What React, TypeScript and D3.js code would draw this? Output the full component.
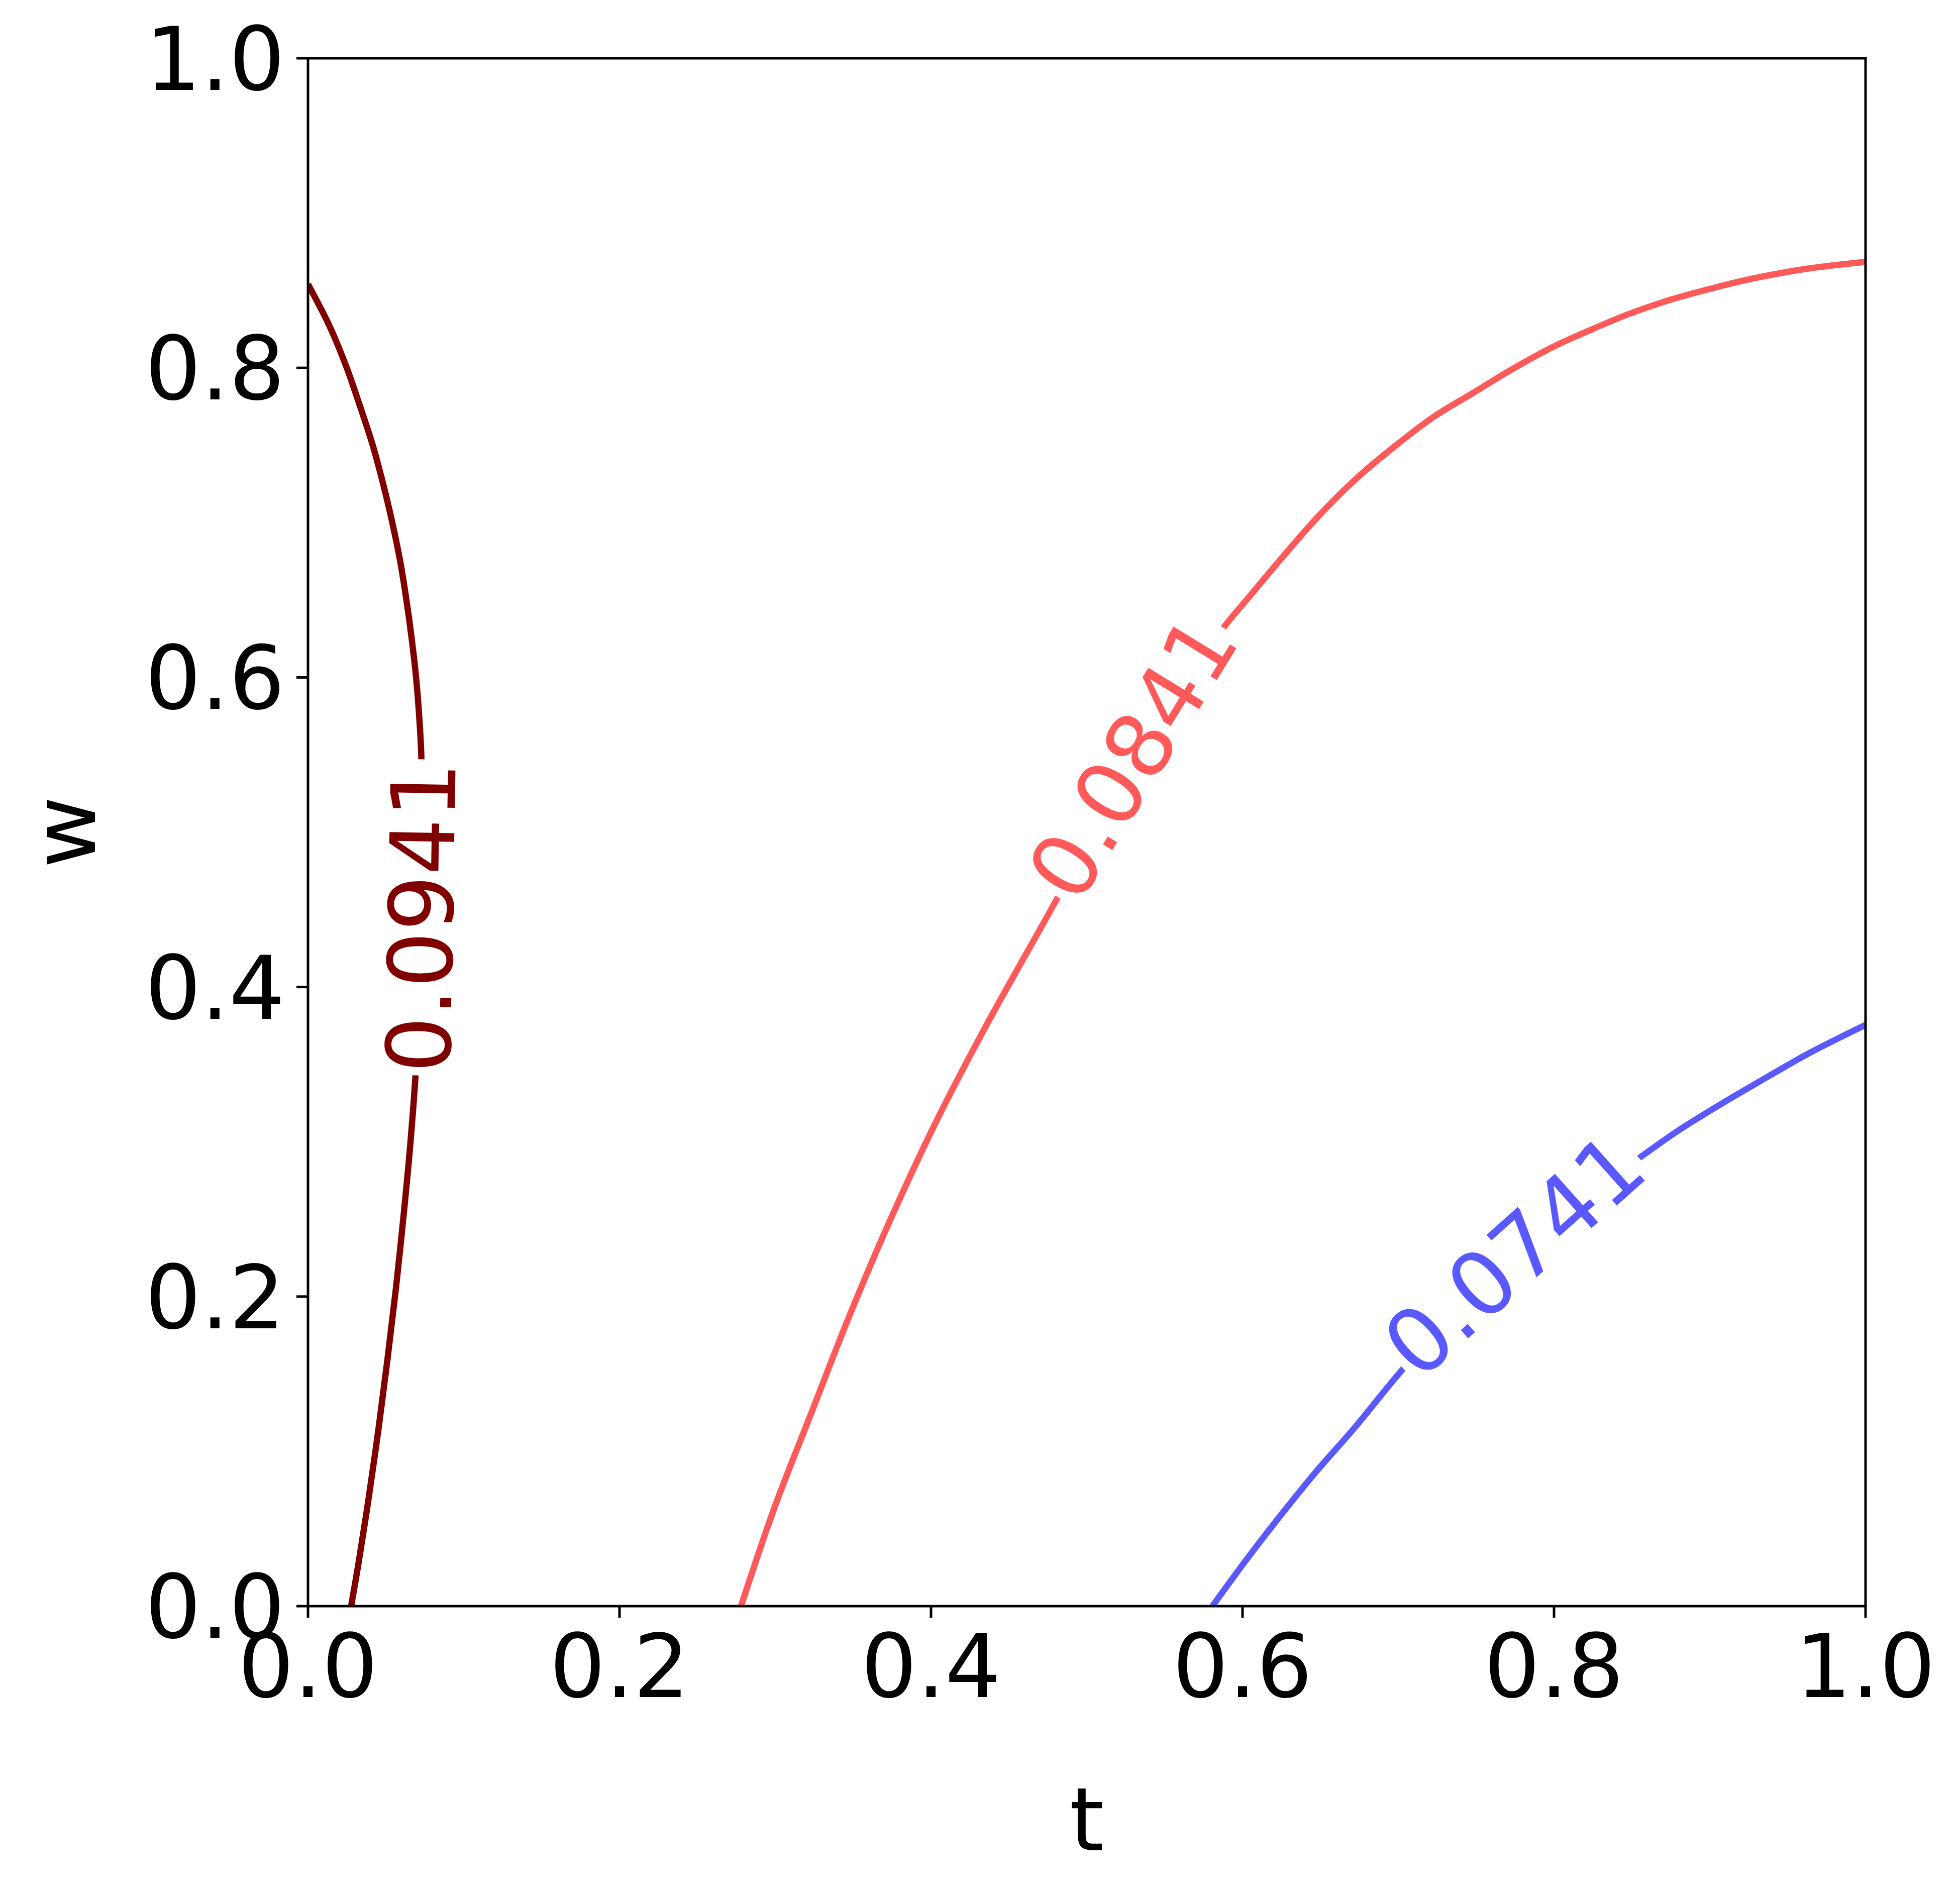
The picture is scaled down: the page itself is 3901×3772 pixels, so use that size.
import React from 'react';
import * as d3 from 'd3';

const W = 3901;
const H = 3772;

const xTicks = [0, 0.2, 0.4, 0.6, 0.8, 1.0];
const yTicks = [0, 0.2, 0.4, 0.6, 0.8, 1.0];
const xLabel = 't';
const yLabel = 'w';

const levels = ['0.0941', '0.0841', '0.0741'];
const levelColors = ['#800000', '#ff5959', '#5959ff'];

const darkRedT = [0.0, 0.0141, 0.0248, 0.0334, 0.0415, 0.0485, 0.0541, 0.0592, 0.0632, 0.0666, 0.0694, 0.0714, 0.0727, 0.0732, 0.0726, 0.0712, 0.0695, 0.0657, 0.0614, 0.0566, 0.0512, 0.0453, 0.0388, 0.0324, 0.0277];
const darkRedW = [0.854, 0.8264, 0.8002, 0.7752, 0.7502, 0.724, 0.7001, 0.675, 0.65, 0.6249, 0.5999, 0.5748, 0.5509, 0.5, 0.445, 0.39, 0.3503, 0.2986, 0.2526, 0.2067, 0.1608, 0.1148, 0.0688, 0.0275, 0.0];

const redT = [0.278, 0.2995, 0.3235, 0.3477, 0.374, 0.4028, 0.4349, 0.4711, 0.4845, 0.507, 0.529, 0.5608, 0.5879, 0.6036, 0.6253, 0.6498, 0.6742, 0.6986, 0.7231, 0.7475, 0.7719, 0.7991, 0.8235, 0.848, 0.8751, 0.9023, 0.9295, 0.9621, 1.0];
const redW = [0.0, 0.0637, 0.1257, 0.1878, 0.2499, 0.312, 0.3741, 0.4393, 0.4635, 0.503, 0.54, 0.593, 0.6323, 0.6513, 0.6773, 0.7053, 0.7295, 0.75, 0.7686, 0.7835, 0.7984, 0.8134, 0.8245, 0.8348, 0.8441, 0.8516, 0.8581, 0.864, 0.8685];

const blueT = [0.5807, 0.6031, 0.6251, 0.6472, 0.672, 0.7024, 0.74, 0.774, 0.81, 0.8526, 0.8788, 0.9064, 0.9339, 0.9643, 1.0];
const blueW = [0.0, 0.0308, 0.0594, 0.0868, 0.1153, 0.1525, 0.194, 0.227, 0.257, 0.288, 0.3066, 0.3239, 0.3401, 0.3575, 0.3755];

const labelT = [0.0724, 0.529, 0.774];
const labelW = [0.445, 0.5485, 0.227];

const curvesT = [darkRedT, redT, blueT];
const curvesW = [darkRedW, redW, blueW];

const FONT = "'DejaVu Sans', sans-serif";
const FS = 175;
const LABEL_FS = 177;

function labelAngle(pts: [number, number][], L: [number, number]) {
  const cum = [0];
  for (let i = 1; i < pts.length; i++) {
    cum.push(cum[i - 1] + Math.hypot(pts[i][0] - pts[i - 1][0], pts[i][1] - pts[i - 1][1]));
  }
  let best = Infinity;
  let s0 = 0;
  for (let i = 1; i < pts.length; i++) {
    const [ax, ay] = pts[i - 1];
    const [bx, by] = pts[i];
    const dx = bx - ax, dy = by - ay;
    const len2 = dx * dx + dy * dy;
    let u = ((L[0] - ax) * dx + (L[1] - ay) * dy) / len2;
    u = Math.max(0, Math.min(1, u));
    const px = ax + u * dx, py = ay + u * dy;
    const d = Math.hypot(L[0] - px, L[1] - py);
    if (d < best) {
      best = d;
      s0 = cum[i - 1] + u * Math.sqrt(len2);
    }
  }
  const at = (s: number): [number, number] => {
    s = Math.max(0, Math.min(cum[cum.length - 1], s));
    for (let i = 1; i < pts.length; i++) {
      if (cum[i] >= s) {
        const u = (s - cum[i - 1]) / (cum[i] - cum[i - 1] || 1);
        return [pts[i - 1][0] + u * (pts[i][0] - pts[i - 1][0]), pts[i - 1][1] + u * (pts[i][1] - pts[i - 1][1])];
      }
    }
    return pts[pts.length - 1];
  };
  const a = at(s0 - 300);
  const b = at(s0 + 300);
  let ang = (Math.atan2(b[1] - a[1], b[0] - a[0]) * 180) / Math.PI;
  if (ang > 90) ang -= 180;
  if (ang < -90) ang += 180;
  return ang;
}

function textWidth(s: string, fs: number) {
  let w = 0;
  for (const c of s) w += c === '.' ? 0.318 : 0.636;
  return w * fs;
}

export default function App() {
  const x = d3.scaleLinear().domain([0, 1]).range([613, 3713]);
  const y = d3.scaleLinear().domain([0, 1]).range([3197, 116]);
  const [x0, x1] = x.range();
  const [y0, y1] = y.range();
  const fmt = d3.format('.1f');
  const tickLen = 23;
  const pad = 23;

  const line = d3
    .line<[number, number]>()
    .x((d) => x(d[0]))
    .y((d) => y(d[1]))
    .curve(d3.curveCatmullRom.alpha(0.5));

  const curves = curvesT.map((ts, i) => ts.map((t, j) => [t, curvesW[i][j]] as [number, number]));

  const labels = levels.map((lev, i) => {
    const pix = curves[i].map((d) => [x(d[0]), y(d[1])] as [number, number]);
    const L: [number, number] = [x(labelT[i]), y(labelW[i])];
    const ang = labelAngle(pix, L);
    return { text: lev, cx: L[0], cy: L[1], ang, w: textWidth(lev, LABEL_FS), color: levelColors[i] };
  });

  return (
    <svg
      width={W}
      height={H}
      viewBox={`0 0 ${W} ${H}`}
      style={{ position: 'absolute', left: 0, top: 0, display: 'block', background: '#fff' }}
    >
      <defs>
        <clipPath id="plotclip">
          <rect x={x0} y={y1} width={x1 - x0} height={y0 - y1} />
        </clipPath>
        <mask id="labelmask" maskUnits="userSpaceOnUse" x={0} y={0} width={W} height={H}>
          <rect x={0} y={0} width={W} height={H} fill="#fff" />
          {labels.map((l, i) => (
            <rect
              key={i}
              x={-(l.w + 10) / 2}
              y={-LABEL_FS * 0.6}
              width={l.w + 10}
              height={LABEL_FS * 1.2}
              fill="#000"
              transform={`translate(${l.cx},${l.cy}) rotate(${l.ang})`}
            />
          ))}
        </mask>
      </defs>
      <rect x={0} y={0} width={W} height={H} fill="#fff" />
      <g clipPath="url(#plotclip)">
        <g mask="url(#labelmask)">
          {curves.map((c, i) => (
            <path key={i} d={line(c) || ''} fill="none" stroke={levelColors[i]} strokeWidth={12.5} strokeLinejoin="round" />
          ))}
        </g>
      </g>
      {labels.map((l, i) => (
        <text
          key={i}
          transform={`translate(${l.cx},${l.cy}) rotate(${l.ang})`}
          textAnchor="middle"
          dy="0.36em"
          fontFamily={FONT}
          fontSize={LABEL_FS}
          fill={l.color}
        >
          {l.text}
        </text>
      ))}
      <rect x={x0} y={y1} width={x1 - x0} height={y0 - y1} fill="none" stroke="#000" strokeWidth={5} />
      {xTicks.map((t, i) => (
        <g key={'x' + i}>
          <line x1={x(t)} x2={x(t)} y1={y0} y2={y0 + tickLen} stroke="#000" strokeWidth={5} />
          <text x={x(t)} y={3378} textAnchor="middle" fontFamily={FONT} fontSize={FS} fill="#000">
            {fmt(t)}
          </text>
        </g>
      ))}
      {yTicks.map((t, i) => (
        <g key={'y' + i}>
          <line x1={x0 - tickLen} x2={x0} y1={y(t)} y2={y(t)} stroke="#000" strokeWidth={5} />
          <text x={x0 - tickLen - pad} y={y(t)} dy="0.36em" textAnchor="end" fontFamily={FONT} fontSize={FS} fill="#000">
            {fmt(t)}
          </text>
        </g>
      ))}
      <text x={(x0 + x1) / 2} y={3683} textAnchor="middle" fontFamily={FONT} fontSize={FS} fill="#000">
        {xLabel}
      </text>
      <text
        transform={`translate(189,${(y0 + y1) / 2}) rotate(-90)`}
        textAnchor="middle"
        fontFamily={FONT}
        fontSize={FS}
        fill="#000"
      >
        {yLabel}
      </text>
    </svg>
  );
}
